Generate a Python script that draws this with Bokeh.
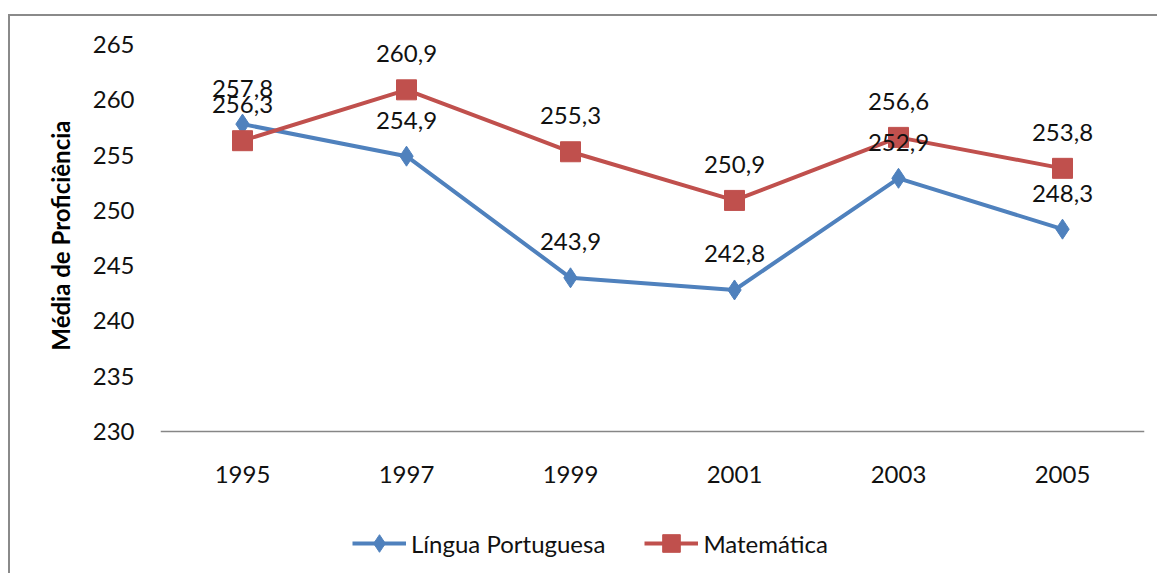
from bokeh.plotting import figure
from bokeh.models import ColumnDataSource, LabelSet, FixedTicker, Range1d, Legend, LegendItem, Title
from bokeh.core.properties import value
from bokeh.embed import file_html
from bokeh.resources import INLINE

years = ["1995", "1997", "1999", "2001", "2003", "2005"]
portugues = [257.8, 254.9, 243.9, 242.8, 252.9, 248.3]
matematica = [256.3, 260.9, 255.3, 250.9, 256.6, 253.8]
y_ticks = [230, 235, 240, 245, 250, 255, 260, 265]

BLUE = "#4F81BD"
RED = "#C0504D"
FONT = "Lato"
FS = "24px"

def fmt(v):
    return f"{v:.1f}".replace(".", ",")

src_p = ColumnDataSource(dict(x=years, y=portugues, t=[fmt(v) for v in portugues]))
src_m = ColumnDataSource(dict(x=years, y=matematica, t=[fmt(v) for v in matematica]))

# frame spans the legend area too; the category axis is pinned at 230
p = figure(x_range=years, y_range=Range1d(217.43, 265), width=1149, height=559,
           output_backend="svg", toolbar_location=None,
           min_border_left=150, min_border_right=15, min_border_top=28, min_border_bottom=5)
p.styles = {"border-top": "2px solid #8a8a8a", "border-left": "2px solid #8a8a8a",
            "margin-top": "14px", "margin-left": "8px"}
p.outline_line_color = None
p.xgrid.grid_line_color = None
p.ygrid.grid_line_color = None
p.x_range.range_padding = 0

lp = p.line("x", "y", source=src_p, line_color=BLUE, line_width=4)
sp = p.scatter("x", "y", source=src_p, marker="diamond", size=20,
               fill_color=BLUE, line_color=BLUE)
lm = p.line("x", "y", source=src_m, line_color=RED, line_width=4)
sm = p.scatter("x", "y", source=src_m, marker="square", size=20, fill_color=RED, line_color=RED)

for src in (src_p, src_m):
    p.add_layout(LabelSet(x="x", y="y", text="t", source=src, y_offset=36,
                          text_align="center", text_baseline="middle",
                          text_font=value(FONT), text_font_size=value(FS),
                          text_color="#111111"))

p.yaxis.ticker = FixedTicker(ticks=y_ticks)
p.yaxis.axis_line_color = None
p.yaxis.major_tick_line_color = None
p.yaxis.minor_tick_line_color = None
p.yaxis.major_tick_out = 0
p.yaxis.major_label_standoff = 26

p.xaxis.fixed_location = 230
p.xaxis.axis_line_color = "#868686"
p.xaxis.axis_line_width = 1.5
p.xaxis.major_tick_line_color = None
p.xaxis.minor_tick_line_color = None
p.xaxis.major_tick_out = 0
p.xaxis.major_label_standoff = 34

for ax in (p.xaxis, p.yaxis):
    ax.major_label_text_font = FONT
    ax.major_label_text_font_size = FS
    ax.major_label_text_color = "#111111"

ytitle = Title(text="Média de Proficiência", align="right", offset=76, standoff=27,
               vertical_align="middle", text_font=FONT, text_font_size="24px",
               text_font_style="bold", text_color="#000000")
p.add_layout(ytitle, "left")

legend = Legend(items=[LegendItem(label="Língua Portuguesa", renderers=[lp, sp]),
                       LegendItem(label="Matemática", renderers=[lm, sm])],
                orientation="horizontal", location=(192, 5),
                glyph_width=54, glyph_height=44, label_standoff=5, spacing=39,
                padding=0, margin=0, border_line_color=None, background_fill_alpha=0,
                label_text_font=FONT, label_text_font_size=FS, label_text_color="#111111")
p.add_layout(legend, "center")

open("out.html", "w").write(file_html(p, INLINE))
